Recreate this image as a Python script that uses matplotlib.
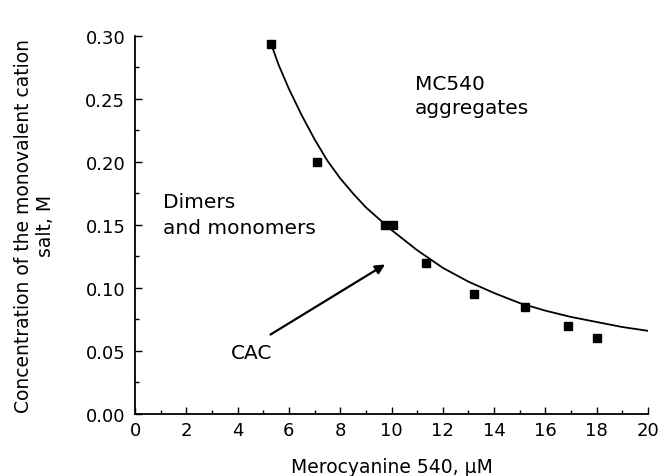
import numpy as np
import matplotlib
matplotlib.use("Agg")
import matplotlib.pyplot as plt
from matplotlib.ticker import MultipleLocator, FormatStrFormatter

# Measured points
mc540 = [5.3, 7.1, 9.75, 10.05, 11.35, 13.2, 15.2, 16.9, 18.0]
salt = [0.294, 0.200, 0.150, 0.150, 0.120, 0.095, 0.085, 0.070, 0.060]

# Fitted curve
curve_x = [5.3, 5.6, 6, 6.5, 7, 7.5, 8, 8.5, 9, 9.5, 10, 11, 12, 13, 14, 15, 16, 17, 18, 19, 20]
curve_y = [0.294, 0.277, 0.258, 0.237, 0.218, 0.201, 0.187, 0.175, 0.164, 0.155, 0.146,
           0.130, 0.116, 0.105, 0.096, 0.088, 0.082, 0.077, 0.073, 0.069, 0.066]

plt.rcParams['font.family'] = ['DejaVu Sans']
fig = plt.figure(figsize=(6.58, 4.77), dpi=100)
ax = fig.add_axes([0.2052, 0.130, 0.7796, 0.7925])

ax.plot(curve_x, curve_y, color='black', lw=1.3)
ax.plot(mc540, salt, 's', color='black', ms=5.5)

ax.set_xlim(0, 20)
ax.set_ylim(0, 0.30)
ax.xaxis.set_major_locator(MultipleLocator(2))
ax.xaxis.set_minor_locator(MultipleLocator(1))
ax.yaxis.set_major_locator(MultipleLocator(0.05))
ax.yaxis.set_minor_locator(MultipleLocator(0.025))
ax.yaxis.set_major_formatter(FormatStrFormatter('%.2f'))
ax.tick_params(which='both', direction='in', labelsize=13, width=1)
ax.tick_params(axis='y', which='major', pad=7)
ax.tick_params(axis='x', which='major', pad=5)
ax.tick_params(which='major', length=5)
ax.tick_params(which='minor', length=3)
for s in ['top', 'right']:
    ax.spines[s].set_visible(False)
for s in ['left', 'bottom']:
    ax.spines[s].set_linewidth(1.3)

ax.set_xlabel('Merocyanine 540, μM', fontsize=13.5, labelpad=13)
ax.set_ylabel('Concentration of the monovalent cation\nsalt, M', fontsize=13.5, labelpad=22)

fs = 14.5
ax.text(10.92, 0.258, 'MC540', fontsize=fs, va='baseline', ha='left')
ax.text(10.92, 0.239, 'aggregates', fontsize=fs, va='baseline', ha='left')
ax.text(1.09, 0.1643, 'Dimers', fontsize=fs, va='baseline', ha='left')
ax.text(1.09, 0.1437, 'and monomers', fontsize=fs, va='baseline', ha='left')
ax.text(3.75, 0.0445, 'CAC', fontsize=fs, va='baseline', ha='left')
ax.annotate('', xy=(9.84, 0.1198), xytext=(5.19, 0.0619),
            arrowprops=dict(arrowstyle='-|>', color='black', lw=1.6, mutation_scale=14))

fig.savefig('out.png', dpi=100)
